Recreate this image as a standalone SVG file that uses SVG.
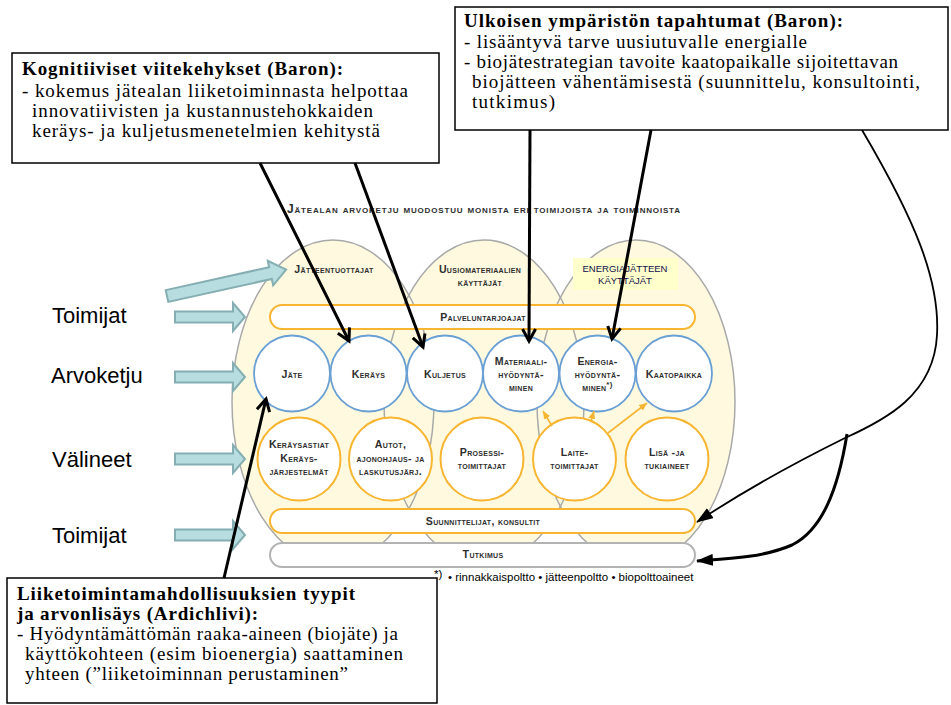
<svg xmlns="http://www.w3.org/2000/svg" width="951" height="705" viewBox="0 0 951 705">
<defs>
<style>
.ell{fill:#FFFADF;stroke:none}
.ello{fill:none;stroke:#A9A9A9;stroke-width:1.5}
.bar{fill:#fff;stroke:#F7B531;stroke-width:2}
.bar2{fill:#fff;stroke:#B3B3B3;stroke-width:2}
.bc{fill:#fff;stroke:#6A9FD4;stroke-width:1.8}
.oc{fill:#fff;stroke:#F7B531;stroke-width:2}
.sc{font-family:"Liberation Sans",Arial,sans-serif;font-weight:bold;font-variant:small-caps;font-size:10.6px;fill:#2E2E2E;text-anchor:middle;letter-spacing:0.3px}
.lbl{font-family:"Liberation Sans",Arial,sans-serif;font-size:22px;fill:#000}
.bx{fill:#fff;stroke:#000;stroke-width:1.5}
.bt{font-family:"Liberation Serif","Times New Roman",serif;font-size:19px;fill:#000}
.bb{font-weight:bold}
.tarrow{fill:#B8DDE0;stroke:#84AEB1;stroke-width:2}
.conn{fill:none;stroke:#000;stroke-width:3}
.thin{fill:none;stroke:#000;stroke-width:1.8}
.oa{fill:none;stroke:#F7B531;stroke-width:1.6}
.fn{font-family:"Liberation Sans",Arial,sans-serif;font-size:11.5px;fill:#000}
.en{font-family:"Liberation Sans",Arial,sans-serif;font-size:9.5px;fill:#10104A;text-anchor:middle}
</style>
<marker id="open" markerUnits="userSpaceOnUse" markerWidth="18" markerHeight="18" refX="14" refY="9" orient="auto" viewBox="0 0 18 18"><path d="M2,2.5 L14,9 L2,15.5" fill="none" stroke="#000" stroke-width="3"/></marker>
<marker id="tri" markerUnits="userSpaceOnUse" markerWidth="17" markerHeight="12" refX="16" refY="6" orient="auto" viewBox="0 0 17 12"><path d="M0,0 L17,6 L0,12 z" fill="#000"/></marker>
<marker id="otri" markerUnits="userSpaceOnUse" markerWidth="8" markerHeight="7" refX="8" refY="3.5" orient="auto" viewBox="0 0 8 7"><path d="M0,0 L8,3.5 L0,7 z" fill="#F7B531"/></marker>
<polygon id="harrow" points="0,-5.5 58,-5.5 58,-14 70,0 58,14 58,5.5 0,5.5"/>
</defs>

<g id="ellipses">
<ellipse class="ell" cx="333" cy="402" rx="101" ry="162"/>
<ellipse class="ell" cx="484" cy="402" rx="100" ry="162"/>
<ellipse class="ell" cx="636" cy="402" rx="99" ry="162"/>
<ellipse class="ello" cx="333" cy="402" rx="101" ry="162"/>
<ellipse class="ello" cx="484" cy="402" rx="100" ry="162"/>
<ellipse class="ello" cx="636" cy="402" rx="99" ry="162"/>
</g>

<g id="title">
<text class="sc" x="287" y="213" style="font-size:12px;text-anchor:start;letter-spacing:0" textLength="393" lengthAdjust="spacing">Jätealan arvoketju muodostuu monista eri toimijoista ja toiminnoista</text>
</g>

<g id="jatteentuottajat"><text class="sc" x="334" y="273">Jätteentuottajat</text></g>
<g id="uusiomateriaalien"><text class="sc" x="480" y="273">Uusiomateriaalien</text><text class="sc" x="480" y="286">käyttäjät</text></g>
<g id="energiajatteen">
<rect x="573" y="258" width="105" height="32" fill="#FFFFCC"/>
<text class="en" x="625" y="272">ENERGIAJÄTTEEN</text>
<text class="en" x="625" y="283.5">KÄYTTÄJÄT</text>
</g>

<g id="palveluntarjoajat">
<rect class="bar" x="270" y="305" width="425" height="24" rx="12"/>
<text class="sc" x="483" y="320.5">Palveluntarjoajat</text>
</g>

<g id="jate"><circle class="bc" cx="292" cy="373.5" r="38"/><text class="sc" x="292" y="378">Jäte</text></g>
<g id="kerays"><circle class="bc" cx="368.5" cy="373.5" r="38"/><text class="sc" x="368.5" y="378">Keräys</text></g>
<g id="kuljetus"><circle class="bc" cx="445" cy="373.5" r="38"/><text class="sc" x="445" y="378">Kuljetus</text></g>
<g id="materiaali"><circle class="bc" cx="521" cy="373.5" r="38"/><text class="sc" x="521" y="365">Materiaali-</text><text class="sc" x="521" y="378">hyödyntä-</text><text class="sc" x="521" y="391">minen</text></g>
<g id="energia"><circle class="bc" cx="597.5" cy="373.5" r="38"/><text class="sc" x="597.5" y="365">Energia-</text><text class="sc" x="597.5" y="378">hyödyntä-</text><text class="sc" x="597.5" y="391">minen<tspan font-size="8" dy="-4" style="font-variant:normal">*)</tspan></text></g>
<g id="kaatopaikka"><circle class="bc" cx="674" cy="373.5" r="38"/><text class="sc" x="674" y="378">Kaatopaikka</text></g>

<g id="keraysastiat"><circle class="oc" cx="299" cy="459" r="41.5"/><text class="sc" x="299" y="448">Keräysastiat</text><text class="sc" x="299" y="461.5">Keräys-</text><text class="sc" x="299" y="475">järjestelmät</text></g>
<g id="autot"><circle class="oc" cx="390.5" cy="459" r="41.5"/><text class="sc" x="390.5" y="448">Autot,</text><text class="sc" x="390.5" y="461.5">ajonohjaus- ja</text><text class="sc" x="390.5" y="475">laskutusjärj.</text></g>
<g id="prosessi"><circle class="oc" cx="482" cy="459" r="41.5"/><text class="sc" x="482" y="456">Prosessi-</text><text class="sc" x="482" y="469">toimittajat</text></g>
<g id="laite"><circle class="oc" cx="574.5" cy="459" r="41.5"/><text class="sc" x="574.5" y="456">Laite-</text><text class="sc" x="574.5" y="469">toimittajat</text></g>
<g id="lisa"><circle class="oc" cx="667" cy="459" r="41.5"/><text class="sc" x="667" y="456">Lisä -ja</text><text class="sc" x="667" y="469">tukiaineet</text></g>

<g id="suunnittelijat">
<rect class="bar" x="270" y="509" width="425" height="24" rx="12"/>
<text class="sc" x="483" y="524.5">Suunnittelijat, konsultit</text>
</g>
<g id="tutkimus">
<rect class="bar2" x="270" y="543" width="425" height="24" rx="12"/>
<text class="sc" x="483" y="558">Tutkimus</text>
</g>
<g id="footnote">
<text class="fn" x="434" y="578" font-size="9">*)</text>
<text class="fn" x="448" y="581">• rinnakkaispoltto • jätteenpoltto • biopolttoaineet</text>
</g>

<g id="left-labels">
<text class="lbl" x="52" y="323">Toimijat</text>
<text class="lbl" x="51" y="383">Arvoketju</text>
<text class="lbl" x="52" y="467">Välineet</text>
<text class="lbl" x="52" y="543">Toimijat</text>
</g>

<g id="teal-arrows">
<use href="#harrow" class="tarrow" transform="translate(175,317)"/>
<use href="#harrow" class="tarrow" transform="translate(175,377)"/>
<use href="#harrow" class="tarrow" transform="translate(175,459)"/>
<use href="#harrow" class="tarrow" transform="translate(175,535)"/>
<polygon class="tarrow" points="0,-6 106,-6 106,-12.5 122,0 106,12.5 106,6 0,6" transform="translate(167,296) rotate(-12.5)"/>
</g>

<g id="box-kognitiiviset">
<rect class="bx" x="12" y="53" width="427" height="110"/>
<text class="bt bb" x="22" y="75" textLength="321" lengthAdjust="spacing">Kognitiiviset viitekehykset (Baron):</text>
<text class="bt" x="22" y="97" textLength="386" lengthAdjust="spacing">- kokemus jätealan liiketoiminnasta helpottaa</text>
<text class="bt" x="32" y="117" textLength="341" lengthAdjust="spacing">innovatiivisten ja kustannustehokkaiden</text>
<text class="bt" x="32" y="137" textLength="348" lengthAdjust="spacing">keräys- ja kuljetusmenetelmien  kehitystä</text>
</g>

<g id="box-ulkoisen">
<rect class="bx" x="455" y="7" width="493" height="123"/>
<text class="bt bb" x="464" y="27" textLength="379" lengthAdjust="spacing">Ulkoisen ympäristön tapahtumat (Baron):</text>
<text class="bt" x="464" y="48" textLength="343" lengthAdjust="spacing">- lisääntyvä tarve uusiutuvalle energialle</text>
<text class="bt" x="464" y="68" textLength="434" lengthAdjust="spacing">- biojätestrategian  tavoite kaatopaikalle sijoitettavan</text>
<text class="bt" x="472" y="88" textLength="448" lengthAdjust="spacing">biojätteen vähentämisestä  (suunnittelu, konsultointi,</text>
<text class="bt" x="472" y="108" textLength="83" lengthAdjust="spacing">tutkimus)</text>
</g>

<g id="box-liiketoiminta">
<rect class="bx" x="7" y="578" width="430" height="125"/>
<text class="bt bb" x="17" y="600" textLength="338" lengthAdjust="spacing">Liiketoimintamahdollisuuksien tyypit</text>
<text class="bt bb" x="17" y="620" textLength="241" lengthAdjust="spacing">ja arvonlisäys (Ardichlivi):</text>
<text class="bt" x="17" y="640" textLength="381" lengthAdjust="spacing">- Hyödyntämättömän raaka-aineen  (biojäte) ja</text>
<text class="bt" x="25" y="660" textLength="378" lengthAdjust="spacing">käyttökohteen (esim bioenergia) saattaminen</text>
<text class="bt" x="25" y="680" textLength="323" lengthAdjust="spacing">yhteen (”liiketoiminnan perustaminen”</text>
</g>

<g id="connectors">
<line class="conn" x1="260" y1="163" x2="349" y2="341" marker-end="url(#open)"/>
<line class="conn" x1="355" y1="163" x2="423" y2="347" marker-end="url(#open)"/>
<line class="conn" x1="530" y1="130" x2="529" y2="341" marker-end="url(#open)"/>
<line class="conn" x1="651" y1="130" x2="612" y2="339" marker-end="url(#open)"/>
<line class="conn" x1="224" y1="578" x2="266" y2="399" marker-end="url(#open)"/>
<path class="thin" d="M862,130 C915,220 940,280 937,335 C934,395 885,420 845,438 Q760,480 697,522" marker-end="url(#tri)"/>
<path class="conn" d="M847,434 C838,490 822,530 792,545 C762,558 725,559 697,561" marker-end="url(#tri)"/>
<line class="oa" x1="552" y1="426" x2="543" y2="411" marker-end="url(#otri)"/>
<line class="oa" x1="591" y1="421" x2="594" y2="411" marker-end="url(#otri)"/>
<line class="oa" x1="608" y1="433" x2="647" y2="403" marker-end="url(#otri)"/>
</g>
</svg>
